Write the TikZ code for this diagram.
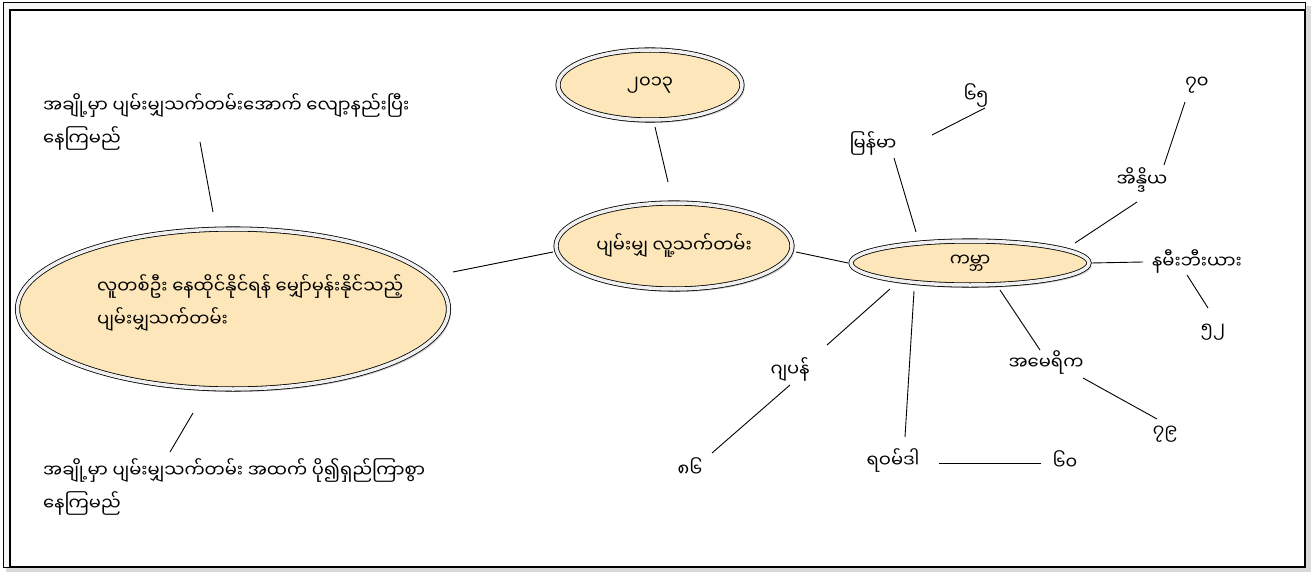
\documentclass[tikz,border=0pt]{standalone}
\usepackage{fontspec}
\newfontfamily\myfont[Script=Myanmar]{Noto Sans Myanmar UI}
\usetikzlibrary{shapes.geometric,shadows,calc}
\definecolor{bubble}{RGB}{253,231,186}
\newcommand\mytxt{\myfont\fontsize{18}{34}\selectfont}
\begin{document}
\begin{tikzpicture}[x=1bp,y=-1bp,
  bub/.style={ellipse, draw=black, line width=0.8bp, double=gray!12, double distance=3.5bp,
    fill=bubble, drop shadow={shadow xshift=2.5bp, shadow yshift=-3bp, opacity=0.35, fill=gray},
    inner sep=0pt, font=\mytxt},
  lbl/.style={font=\mytxt, inner sep=1bp},
  conn/.style={line width=0.9bp, draw=black}]
\useasboundingbox (0,0) rectangle (1311,572);
% frame
\fill[gray!30] (6,6) rectangle (1311,572);
\draw[line width=1bp, fill=gray!6] (3,3) rectangle (1305,567);
\draw[line width=1.2bp, fill=white] (10,10) rectangle (1305,567);
% bubbles
\node[bub, minimum width=184bp, minimum height=70bp] (yr) at (650,85) {၂၀၁၃};
\node[bub, minimum width=236bp, minimum height=86bp] (avg) at (674,246) {ပျမ်းမျှ လူ့သက်တမ်း};
\node[bub, minimum width=431bp, minimum height=160bp] (big) at (233,309) {};
\node[lbl, align=left, anchor=west] (bigtxt) at (96,303)
  {လူတစ်ဦး နေထိုင်နိုင်ရန် မျှော်မှန်းနိုင်သည့်\\ပျမ်းမျှသက်တမ်း};
\node[bub, minimum width=238bp, minimum height=44bp] (world) at (970,263) {ကမ္ဘာ};
% texts
\node[lbl, anchor=west, align=left] (tl) at (42,122)
  {အချို့မှာ ပျမ်းမျှသက်တမ်းအောက် လျော့နည်းပြီး\\နေကြမည်};
\node[lbl, anchor=west, align=left] (bl) at (42,487)
  {အချို့မှာ ပျမ်းမျှသက်တမ်း အထက် ပို၍ရှည်ကြာစွာ\\နေကြမည်};
\node[lbl] (mm) at (873,143) {မြန်မာ};
\node[lbl] (mmv) at (976,95) {၆၅};
\node[lbl] (ind) at (1142,180) {အိန္ဒိယ};
\node[lbl] (indv) at (1197,85) {၇၀};
\node[lbl] (nam) at (1197,262) {နမီးဘီးယား};
\node[lbl] (namv) at (1213,332) {၅၂};
\node[lbl] (usa) at (1046,363) {အမေရိက};
\node[lbl] (usav) at (1165,434) {၇၉};
\node[lbl] (rwa) at (893,460) {ရဝမ်ဒါ};
\node[lbl] (rwav) at (1065,460) {၆၀};
\node[lbl] (jp) at (790,370) {ဂျပန်};
\node[lbl] (jpv) at (690,467) {၈၆};
% connectors
\draw[conn] ($(yr)+(5,42)$) -- ($(avg)+(-6,-64)$);
\draw[conn] ($(avg)+(-121,6)$) -- ($(big)+(220,-37)$);
\draw[conn] ($(avg)+(122,6)$) -- ($(world)+(-122,0)$);
\draw[conn] ($(tl.west)+(158,20)$) -- ($(big)+(-20,-97)$);
\draw[conn] ($(big)+(-40,104)$) -- ($(bl.west)+(128,-35)$);
\draw[conn] ($(world)+(-54,-31)$) -- ($(mm)+(21,15)$);
\draw[conn] ($(mm)+(59,-8)$) -- ($(mmv)+(9,13)$);
\draw[conn] ($(world)+(105,-20)$) -- ($(ind)+(-5,22)$);
\draw[conn] ($(ind)+(22,-15)$) -- ($(indv)+(-12,17)$);
\draw[conn] ($(world)+(121,0)$) -- ($(nam)+(-54,0)$);
\draw[conn] ($(nam)+(-10,13)$) -- ($(namv)+(-5,-24)$);
\draw[conn] ($(world)+(30,27)$) -- ($(usa)+(-6,-13)$);
\draw[conn] ($(usa)+(37,15)$) -- ($(usav)+(-8,-15)$);
\draw[conn] ($(world)+(-56,28)$) -- ($(rwa)+(12,-23)$);
\draw[conn] ($(rwa)+(46,3)$) -- ($(rwav)+(-24,3)$);
\draw[conn] ($(world)+(-80,26)$) -- ($(jp)+(37,-25)$);
\draw[conn] ($(jp)+(0,15)$) -- ($(jpv)+(22,-14)$);
\end{tikzpicture}
\end{document}
